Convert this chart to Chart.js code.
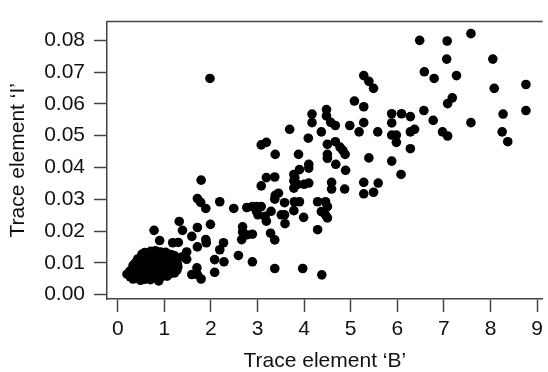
<!DOCTYPE html>
<html>
<head>
<meta charset="utf-8">
<script src="https://cdn.jsdelivr.net/npm/chart.js@4/dist/chart.umd.min.js"></script>
<style>
  html, body { margin: 0; padding: 0; background: #fff; }
  #wrap { width: 548px; height: 372px; position: relative; }
</style>
</head>
<body>
<div id="wrap"><canvas id="scatter"></canvas></div>
<script>
// Trace element 'B' (x) against trace element 'I' (y)

// scattered points
const traceB = [
    6.48, 7.07, 7.58, 7.06, 8.05, 6.58, 6.79, 7.27, 8.08, 8.76,
    7.18, 7.08, 5.28, 5.39, 5.49, 5.08, 5.28, 6.57, 8.76, 8.27,
    7.58, 6.77, 8.25, 8.37, 6.97, 7.08, 5.88, 6.09, 6.28, 5.88,
    6.37, 6.28, 6.28, 5.88, 5.98, 5.98, 5.58, 4.48, 4.17, 4.48,
    4.17, 4.57, 4.67, 4.98, 5.28, 5.18, 4.37, 3.69, 4.09, 3.38,
    3.88, 4.50, 4.67, 4.77, 4.83, 4.88, 4.50, 4.50, 4.68, 4.89,
    5.39, 5.88, 6.08, 4.10, 4.10, 3.90, 3.78, 3.80, 3.37, 3.78,
    3.86, 4.00, 4.10, 3.78, 4.59, 4.59, 4.87, 5.28, 5.59, 5.28,
    5.49, 3.45, 1.98, 1.79, 3.08, 3.19, 3.19, 3.08, 3.38, 3.37,
    3.58, 3.79, 3.90, 4.29, 4.46, 4.50, 4.37, 4.46, 4.50, 3.99,
    3.59, 3.51, 3.58, 3.78, 3.29, 3.19, 3.01, 2.98, 2.98, 3.08,
    2.89, 2.77, 3.16, 2.49, 2.19, 1.71, 1.78, 1.89, 1.99, 2.68,
    2.68, 2.77, 2.89, 2.66, 3.28, 3.37, 4.29, 2.59, 2.89, 3.37,
    3.97, 4.38, 2.27, 2.19, 2.08, 2.28, 2.08, 1.89, 1.90, 1.71,
    1.59, 1.71, 1.39, 1.32, 1.48, 1.39, 1.48, 1.70, 1.59, 1.71,
    1.79, 0.78, 0.90, 1.18, 1.30
];
const traceI = [
    0.0800, 0.0798, 0.0821, 0.0741, 0.0741, 0.0701, 0.0680, 0.0689, 0.0649, 0.0661,
    0.0619, 0.0601, 0.0689, 0.0671, 0.0649, 0.0609, 0.0591, 0.0579, 0.0579, 0.0568,
    0.0541, 0.0548, 0.0512, 0.0481, 0.0512, 0.0499, 0.0569, 0.0569, 0.0560, 0.0540,
    0.0520, 0.0512, 0.0459, 0.0502, 0.0502, 0.0479, 0.0512, 0.0582, 0.0568, 0.0562,
    0.0541, 0.0542, 0.0532, 0.0532, 0.0541, 0.0512, 0.0512, 0.0520, 0.0492, 0.0441,
    0.0441, 0.0473, 0.0481, 0.0464, 0.0454, 0.0441, 0.0441, 0.0429, 0.0410, 0.0391,
    0.0430, 0.0420, 0.0378, 0.0410, 0.0398, 0.0393, 0.0378, 0.0368, 0.0370, 0.0358,
    0.0347, 0.0347, 0.0351, 0.0335, 0.0353, 0.0332, 0.0332, 0.0353, 0.0351, 0.0317,
    0.0322, 0.0319, 0.0680, 0.0360, 0.0471, 0.0479, 0.0368, 0.0342, 0.0312, 0.0300,
    0.0289, 0.0292, 0.0292, 0.0292, 0.0292, 0.0277, 0.0261, 0.0251, 0.0241, 0.0243,
    0.0223, 0.0251, 0.0251, 0.0264, 0.0262, 0.0231, 0.0251, 0.0261, 0.0277, 0.0277,
    0.0277, 0.0274, 0.0246, 0.0271, 0.0292, 0.0302, 0.0290, 0.0271, 0.0221, 0.0213,
    0.0197, 0.0188, 0.0190, 0.0173, 0.0193, 0.0172, 0.0204, 0.0123, 0.0103, 0.0082,
    0.0082, 0.0062, 0.0163, 0.0141, 0.0110, 0.0103, 0.0070, 0.0173, 0.0163, 0.0211,
    0.0183, 0.0150, 0.0202, 0.0230, 0.0134, 0.0119, 0.0111, 0.0084, 0.0063, 0.0063,
    0.0049, 0.0202, 0.0170, 0.0163, 0.0164
];

// dense cluster at low values
const clusterB = [
    0.20, 0.27, 0.30, 0.33, 0.36, 0.40, 0.42, 0.47, 0.49, 0.53,
    0.58, 0.61, 0.66, 0.70, 0.74, 0.78, 0.84, 0.88, 0.93, 0.99,
    1.06, 1.13, 1.22, 0.26, 0.35, 0.44, 0.52, 0.56, 0.64, 0.69,
    0.75, 0.80, 0.86, 0.91, 0.97, 1.03, 1.09, 1.15, 1.20, 1.27,
    1.29, 0.33, 0.38, 0.45, 0.48, 0.55, 0.60, 0.63, 0.68, 0.73,
    0.77, 0.82, 0.88, 0.92, 0.97, 1.02, 1.08, 1.12, 1.18, 1.23,
    1.28, 0.43, 0.51, 0.57, 0.62, 0.67, 0.72, 0.78, 0.83, 0.89,
    0.94, 1.00, 1.06, 1.11, 1.17, 1.23, 1.28, 0.52, 0.58, 0.66,
    0.71, 0.77, 0.81, 0.86, 0.92, 0.98, 1.03, 1.10, 1.16, 1.22
];
const clusterI = [
    0.0064, 0.0056, 0.0070, 0.0049, 0.0062, 0.0078, 0.0052, 0.0066, 0.0045, 0.0058,
    0.0048, 0.0066, 0.0055, 0.0047, 0.0062, 0.0053, 0.0060, 0.0043, 0.0055, 0.0065,
    0.0058, 0.0066, 0.0068, 0.0074, 0.0085, 0.0072, 0.0075, 0.0083, 0.0073, 0.0084,
    0.0071, 0.0080, 0.0072, 0.0083, 0.0073, 0.0082, 0.0074, 0.0081, 0.0075, 0.0077,
    0.0087, 0.0092, 0.0100, 0.0091, 0.0104, 0.0096, 0.0090, 0.0104, 0.0094, 0.0100,
    0.0090, 0.0098, 0.0091, 0.0103, 0.0093, 0.0100, 0.0092, 0.0102, 0.0093, 0.0101,
    0.0096, 0.0112, 0.0116, 0.0109, 0.0120, 0.0112, 0.0121, 0.0110, 0.0118, 0.0110,
    0.0120, 0.0112, 0.0119, 0.0109, 0.0117, 0.0110, 0.0115, 0.0127, 0.0132, 0.0128,
    0.0136, 0.0129, 0.0138, 0.0127, 0.0134, 0.0126, 0.0133, 0.0127, 0.0125, 0.0122
];

const xTicks = [0, 1, 2, 3, 4, 5, 6, 7, 8, 9];
const yTicks = [0, 0.01, 0.02, 0.03, 0.04, 0.05, 0.06, 0.07, 0.08];

const xTitle = 'Trace element \u2018B\u2019';
const yTitle = 'Trace element \u2018I\u2019';

const AXIS_COLOR = '#444';
const TEXT_COLOR = '#111';
const FONT = 'Liberation Sans, Arial, Helvetica, sans-serif';

const points = [];
traceB.forEach((b, i) => points.push({ x: b, y: traceI[i] }));
clusterB.forEach((b, i) => points.push({ x: b, y: clusterI[i] }));

// the top line of the plot box (the right side is cut off in the picture)
const topLine = {
    id: 'topLine',
    afterDraw(chart) {
        const { ctx, chartArea } = chart;
        ctx.save();
        ctx.strokeStyle = AXIS_COLOR;
        ctx.lineWidth = 1.5;
        ctx.beginPath();
        ctx.moveTo(chartArea.left, chartArea.top);
        ctx.lineTo(chartArea.right, chartArea.top);
        ctx.stroke();
        ctx.restore();
    }
};

const ctx = document.getElementById('scatter').getContext('2d');
new Chart(ctx, {
    type: 'scatter',
    data: {
        datasets: [{
            data: points,
            pointRadius: 4.8,
            pointHoverRadius: 4.8,
            pointBackgroundColor: '#000',
            pointBorderWidth: 0
        }]
    },
    options: {
        responsive: true,
        maintainAspectRatio: false,
        animation: false,
        layout: { padding: { top: 12, left: 0, right: 0, bottom: 0 } },
        plugins: {
            legend: { display: false },
            tooltip: { enabled: false }
        },
        scales: {
            x: {
                type: 'linear',
                min: -0.23,
                max: 9.12,
                afterBuildTicks: scale => { scale.ticks = xTicks.map(v => ({ value: v })); },
                afterFit: scale => { scale.height = 73; },
                grid: { drawOnChartArea: false, drawTicks: true, tickLength: 13, tickColor: AXIS_COLOR, tickWidth: 1.5 },
                border: { display: true, color: AXIS_COLOR, width: 1.5 },
                ticks: {
                    color: TEXT_COLOR,
                    padding: 5,
                    maxRotation: 0,
                    font: { family: FONT, size: 21 },
                    callback: v => String(v)
                },
                title: {
                    display: true,
                    text: xTitle,
                    color: TEXT_COLOR,
                    padding: 0,
                    font: { family: FONT, size: 21, lineHeight: 1 }
                }
            },
            y: {
                type: 'linear',
                min: -0.0014,
                max: 0.0859,
                afterBuildTicks: scale => { scale.ticks = yTicks.map(v => ({ value: v })); },
                afterFit: scale => { scale.width = 107; },
                grid: { drawOnChartArea: false, drawTicks: true, tickLength: 13, tickColor: AXIS_COLOR, tickWidth: 1.5 },
                border: { display: true, color: AXIS_COLOR, width: 1.5 },
                ticks: {
                    color: TEXT_COLOR,
                    padding: 9,
                    font: { family: FONT, size: 21 },
                    callback: v => v.toFixed(2)
                },
                title: {
                    display: true,
                    text: yTitle,
                    color: TEXT_COLOR,
                    padding: { top: 8, bottom: 0 },
                    font: { family: FONT, size: 21, lineHeight: 1 }
                }
            }
        }
    },
    plugins: [topLine]
});
</script>
</body>
</html>
